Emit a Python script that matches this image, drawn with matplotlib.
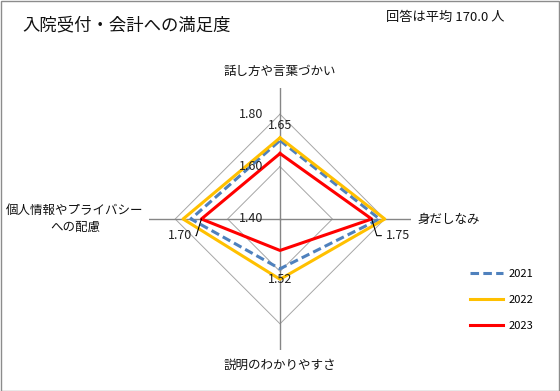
import numpy as np
import matplotlib
matplotlib.use("Agg")
import matplotlib.pyplot as plt
from matplotlib.patches import Rectangle

plt.rcParams['font.family'] = ['Noto Sans CJK JP', 'DejaVu Sans']

categories = ['話し方や言葉づかい', '身だしなみ', '説明のわかりやすさ', '個人情報やプライバシー\nへの配慮']
years = ['2021', '2022', '2023']
v2021 = [1.70, 1.78, 1.59, 1.74]
v2022 = [1.71, 1.80, 1.63, 1.77]
v2023 = [1.65, 1.75, 1.52, 1.70]
label_2023 = ['1.65', '1.75', '1.52', '1.70']
grid_values = [1.40, 1.60, 1.80]
r_min, r_max = 1.40, 1.90

colors = ['#4F81BD', '#FFC000', '#FF0000']
styles = [(0, (2.8, 1.4)), '-', '-']

W, H = 560, 391
fig = plt.figure(figsize=(W / 100, H / 100), dpi=100)

# polar axes centred on (280, 219) px, radius 131 px
cx, cy, R = 280, 219, 131
ax = fig.add_axes([(cx - R) / W, (H - cy - R) / H, 2 * R / W, 2 * R / H], projection='polar')
ax.set_theta_offset(np.pi / 2)
ax.set_theta_direction(-1)
ax.set_ylim(r_min, r_max)
ax.set_xticks([])
ax.set_yticks([])
ax.grid(False)
ax.spines['polar'].set_visible(False)
ax.patch.set_alpha(0)

angles = np.linspace(0, 2 * np.pi, len(categories), endpoint=False)
closed = np.append(angles, angles[0])

# diamond gridlines
for g in grid_values[1:]:
    ax.plot(closed, [g] * len(closed), color='#a6a6a6', lw=0.7, zorder=1)
# spokes
for a in angles:
    ax.plot([a, a], [r_min, r_max], color='#868686', lw=1.0, zorder=1)

# tick labels on the vertical axis
for g in grid_values:
    ax.annotate(f'{g:.2f}', xy=(0, g), xytext=(-21, 0), textcoords='offset points',
                ha='center', va='center', fontsize=9, color='#222222', zorder=5)

# series
lines = []
for vals, c, ls, y in zip([v2021, v2022, v2023], colors, styles, years):
    ln, = ax.plot(closed, vals + vals[:1], color=c, lw=2.2, linestyle=ls, label=y, zorder=3)
    lines.append(ln)

# data labels for 2023
lbl_kw = dict(textcoords='offset points', fontsize=9, color='#222222', zorder=6)
ax.annotate(label_2023[0], xy=(angles[0], v2023[0]), xytext=(0, 20), ha='center', va='center', **lbl_kw)
ax.annotate(label_2023[2], xy=(angles[2], v2023[2]), xytext=(0, -21), ha='center', va='center', **lbl_kw)
ax.annotate(label_2023[1], xy=(angles[1], v2023[1]), xytext=(10, -12), ha='left', va='center',
            arrowprops=dict(arrowstyle='-', color='black', lw=0.8, shrinkA=1, shrinkB=0,
                            connectionstyle='angle,angleA=0,angleB=-73,rad=0'), **lbl_kw)
ax.annotate(label_2023[3], xy=(angles[3], v2023[3]), xytext=(-7, -12), ha='right', va='center',
            arrowprops=dict(arrowstyle='-', color='black', lw=0.8, shrinkA=1, shrinkB=0,
                            connectionstyle='angle,angleA=0,angleB=73,rad=0'), **lbl_kw)

# category labels
cat_kw = dict(fontsize=9, color='#111111')
ax.text(angles[0], 1.963, categories[0], ha='center', va='center', **cat_kw)
ax.text(angles[1], 1.925, categories[1], ha='left', va='center', **cat_kw)
ax.text(angles[2], 1.958, categories[2], ha='center', va='center', **cat_kw)
ax.text(angles[3], 1.92, categories[3], ha='right', va='center', multialignment='center',
        linespacing=1.4, **cat_kw)

# titles
fig.text(22 / W, 1 - 25 / H, '入院受付・会計への満足度', fontsize=12.5, ha='left', va='center', color='#111111')
fig.text(505 / W, 1 - 17 / H, '回答は平均 170.0 人', fontsize=9.5, ha='right', va='center', color='#111111')

# legend
fig.legend(handles=lines, labels=years, loc='upper left', bbox_to_anchor=(470 / W, 1 - 269 / H),
           frameon=False, fontsize=8, handlelength=3.0, handletextpad=0.45, labelspacing=1.45,
           borderpad=0, borderaxespad=0)

# outer border
fig.patches.append(Rectangle((0.5 / W, 0.5 / H), 1 - 1.5 / W, 1 - 1.5 / H, transform=fig.transFigure,
                             fill=False, edgecolor='#8c8c8c', lw=1))

fig.savefig('out.png', dpi=100)
